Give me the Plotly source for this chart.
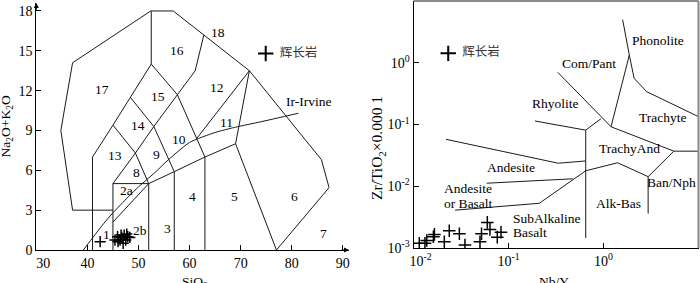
import numpy as np
import plotly.graph_objects as go

# ---------------- Left panel: TAS diagram ----------------
tas_outer_x = [45, 37.1, 34.8, 37.1, 52.4, 56.8, 71.7, 85.8, 87.3, 77.0]
tas_outer_y = [3, 3, 9.0, 14.1, 18.0, 18.0, 13.5, 6.8, 4.7, 0]
tas_l2_x = [41, 41, 45, 48.4, 52.5, 57.6, 63]
tas_l2_y = [0, 7, 9.4, 11.5, 14.0, 11.7, 7]
tas_l3_x = [52.5, 52.5]
tas_l3_y = [14.0, 18.0]
tas_l4_x = [45, 45, 52, 52]
tas_l4_y = [0, 5, 5, 0]
tas_l5_x = [45, 49.4, 53, 57.6, 61.1, 62.8]
tas_l5_y = [5, 7.3, 9.3, 11.7, 13.5, 16.2]
tas_l6_x = [45, 49.4, 52]
tas_l6_y = [9.4, 7.3, 5]
tas_l7_x = [48.4, 53, 57]
tas_l7_y = [11.5, 9.3, 5.9]
tas_l8_x = [57, 57, 63, 69, 71.7]
tas_l8_y = [0, 5.9, 7, 8, 13.5]
tas_l8b_x = [52, 57]
tas_l8b_y = [5, 5.9]
tas_l9_x = [63, 63]
tas_l9_y = [0, 7]
tas_l10_x = [69, 77]
tas_l10_y = [8, 0]
tas_l11_x = [71.7, 61.4]
tas_l11_y = [13.5, 8.4]
tas_l12_x = [45, 52]
tas_l12_y = [2.1, 5]
irvine_x = [39.2, 40, 43.2, 45, 48, 50, 53.7, 55, 60, 65, 69, 74, 81.3]
irvine_y = [0, 0.4, 2.0, 2.8, 4.0, 4.75, 6.0, 6.5, 8.1, 8.85, 9.25, 9.66, 10.3]

tas_labels = ["18", "16", "17", "15", "12", "14", "13", "9", "10", "11", "8",
              "2a", "2b", "1", "3", "4", "5", "6", "7", "Ir-Irvine"]
tas_label_x = [65.6, 57.5, 42.8, 53.9, 65.4, 50.0, 45.4, 53.6, 57.9, 67.3, 49.6,
               47.7, 50.2, 43.8, 55.7, 60.6, 68.7, 80.5, 86.3, 83.2]
tas_label_y = [16.4, 15.0, 12.05, 11.55, 12.2, 9.4, 7.15, 7.2, 8.33, 9.6, 5.85,
               4.5, 1.5, 1.2, 1.6, 4.0, 4.0, 4.0, 1.25, 11.2]

gabbro_sio2 = [42.5, 45.4, 45.9, 46.4, 46.7, 47.2, 47.5, 47.9, 48.3, 46.0, 47.0, 46.6, 47.7]
gabbro_alk = [0.63, 0.75, 1.0, 0.75, 0.95, 1.13, 0.75, 1.0, 0.95, 0.63, 0.5, 1.13, 1.2]
tas_legend_x = [74.9]
tas_legend_y = [14.8]

# ---------------- Right panel: Winchester & Floyd ----------------
wf_r1_x = [0.33, 1.2, 5.5, 10]
wf_r1_y = [0.70, 0.092, 0.037, 0.037]
wf_r2_x = [1.59, 1.87, 1.2]
wf_r2_y = [5.0, 1.33, 0.092]
wf_r2b_x = [1.87, 2.1, 2.85, 10]
wf_r2b_y = [1.33, 0.56, 0.34, 0.134]
wf_r3_x = [0.19, 0.65, 0.94]
wf_r3_y = [0.114, 0.081, 0.124]
wf_r4_x = [0.65, 0.65]
wf_r4_y = [0.081, 0.00145]
wf_r5_x = [0.022, 0.334, 0.65]
wf_r5_y = [0.0575, 0.0236, 0.0257]
wf_r6_x = [0.059, 0.474]
wf_r6_y = [0.0112, 0.0132]
wf_r7_x = [0.0274, 0.211, 0.65, 1.41, 2.95, 5.5]
wf_r7_y = [0.0041, 0.0053, 0.0178, 0.024, 0.0143, 0.037]
wf_r8_x = [2.95, 2.95]
wf_r8_y = [0.0143, 0.0036]

wf_labels = ["Phonolite", "Com/Pant", "Rhyolite", "Trachyte", "TrachyAnd", "Andesite",
             "Andesite", "or Basalt", "SubAlkaline", "Basalt", "Ban/Nph", "Alk-Bas"]
wf_label_x = [3.78, 0.709, 0.314, 4.2, 1.90, 0.1055, 0.0379, 0.0379, 0.255, 0.168, 5.22, 1.43]
wf_label_y = [2.33, 0.98, 0.215, 0.131, 0.0412, 0.020, 0.00927, 0.0053, 0.00303, 0.00177, 0.0114, 0.00516]

gabbro_nby = [0.0115, 0.0132, 0.0138, 0.0162, 0.0166, 0.0211, 0.0238, 0.0304, 0.0348,
              0.0501, 0.052, 0.0598, 0.0638, 0.0762, 0.0834]
gabbro_zrti = [0.00119, 0.00119, 0.00132, 0.00152, 0.00166, 0.00126, 0.0019, 0.0017, 0.00112,
               0.00126, 0.0017, 0.0026, 0.0020, 0.0015, 0.0018]
wf_legend_x = [0.0232]
wf_legend_y = [1.42]

LINE = dict(color="#1a1a1a", width=1)
SERIF = "Liberation Serif, Times New Roman, DejaVu Serif, serif"
CJK = "Noto Sans CJK SC"

fig = go.Figure()

tas_lines = [(tas_outer_x, tas_outer_y), (tas_l2_x, tas_l2_y), (tas_l3_x, tas_l3_y),
             (tas_l4_x, tas_l4_y), (tas_l5_x, tas_l5_y), (tas_l6_x, tas_l6_y),
             (tas_l7_x, tas_l7_y), (tas_l8_x, tas_l8_y), (tas_l8b_x, tas_l8b_y),
             (tas_l9_x, tas_l9_y), (tas_l10_x, tas_l10_y), (tas_l11_x, tas_l11_y),
             (tas_l12_x, tas_l12_y)]
for lx, ly in tas_lines:
    fig.add_trace(go.Scatter(x=lx, y=ly, mode="lines", line=LINE, xaxis="x", yaxis="y",
                             hoverinfo="skip"))
fig.add_trace(go.Scatter(x=irvine_x, y=irvine_y, mode="lines",
                         line=dict(color="#1a1a1a", width=1, shape="spline", smoothing=0.6),
                         xaxis="x", yaxis="y", hoverinfo="skip"))

wf_lines = [(wf_r1_x, wf_r1_y), (wf_r2_x, wf_r2_y), (wf_r2b_x, wf_r2b_y), (wf_r3_x, wf_r3_y),
            (wf_r4_x, wf_r4_y), (wf_r5_x, wf_r5_y), (wf_r6_x, wf_r6_y), (wf_r7_x, wf_r7_y),
            (wf_r8_x, wf_r8_y)]
for lx, ly in wf_lines:
    fig.add_trace(go.Scatter(x=lx, y=ly, mode="lines", line=LINE, xaxis="x2", yaxis="y2",
                             hoverinfo="skip"))

MK = dict(symbol="cross-thin", size=8, color="black", line=dict(color="black", width=1.5))
fig.add_trace(go.Scatter(x=gabbro_sio2, y=gabbro_alk, mode="markers", marker=MK, xaxis="x", yaxis="y"))
fig.add_trace(go.Scatter(x=gabbro_nby, y=gabbro_zrti, mode="markers",
                         marker=dict(MK, size=9), xaxis="x2", yaxis="y2"))

LEGMK = dict(symbol="cross-thin", size=11, color="black", line=dict(color="black", width=2))
fig.add_trace(go.Scatter(x=tas_legend_x, y=tas_legend_y, mode="markers+text", marker=LEGMK,
                         text=["\u2002辉长岩"], textposition="middle right",
                         textfont=dict(family=CJK, size=12.5, color="#333"), xaxis="x", yaxis="y"))
fig.add_trace(go.Scatter(x=wf_legend_x, y=wf_legend_y, mode="markers+text", marker=LEGMK,
                         text=["\u2002辉长岩"], textposition="middle right",
                         textfont=dict(family=CJK, size=12.5, color="#333"), xaxis="x2", yaxis="y2"))

annotations = []
for t, x, y in zip(tas_labels, tas_label_x, tas_label_y):
    annotations.append(dict(text=t, x=x, y=y, xref="x", yref="y", showarrow=False,
                            xanchor="center", yanchor="middle", font=dict(family=SERIF, size=13.5)))
for t, x, y in zip(wf_labels, wf_label_x, wf_label_y):
    annotations.append(dict(text=t, x=np.log10(x), y=np.log10(y), xref="x2", yref="y2", showarrow=False,
                            xanchor="center", yanchor="middle", font=dict(family=SERIF, size=13.5)))

# axis arrows (left panel)
annotations.append(dict(x=91.2, y=0, xref="x", yref="y", ax=-9, ay=0, text="", showarrow=True,
                        arrowhead=2, arrowsize=1, arrowwidth=1, arrowcolor="black"))
annotations.append(dict(x=30, y=18.6, xref="x", yref="y", ax=0, ay=9, text="", showarrow=True,
                        arrowhead=2, arrowsize=1, arrowwidth=1, arrowcolor="black"))

# axis titles
annotations.append(dict(text="SiO<sub>2</sub>", x=195 / 700, y=1 - 272 / 283, xref="paper", yref="paper",
                        showarrow=False, xanchor="center", yanchor="top", font=dict(family=SERIF, size=13.5)))
annotations.append(dict(text="Nb/Y", x=554 / 700, y=1 - 272 / 283, xref="paper", yref="paper",
                        showarrow=False, xanchor="center", yanchor="top", font=dict(family=SERIF, size=13.5)))
annotations.append(dict(text="Na<sub>2</sub>O+K<sub>2</sub>O", x=6.7 / 700, y=1 - 126.7 / 283, xref="paper",
                        yref="paper", showarrow=False, xanchor="center", yanchor="middle", textangle=-90,
                        font=dict(family=SERIF, size=13.5)))
annotations.append(dict(text="Zr/TiO<sub>2</sub>×0.000 1", x=377.7 / 700, y=1 - 148.3 / 283, xref="paper",
                        yref="paper", showarrow=False, xanchor="center", yanchor="middle", textangle=-90,
                        font=dict(family=SERIF, size=15.5)))

AX = dict(showline=True, linecolor="black", linewidth=1, ticks="inside", ticklen=5, tickcolor="black",
          showgrid=False, zeroline=False, automargin=False,
          tickfont=dict(family=SERIF, size=14, color="black"))

tas_xticks = [30, 40, 50, 60, 70, 80, 90]
tas_yticks = [0, 3, 6, 9, 12, 15, 18]
wf_ticks_x = [0.01, 0.1, 1, 10]
wf_ticks_y = [0.001, 0.01, 0.1, 1, 10]

fig.update_layout(
    width=700, height=283, margin=dict(l=0, r=0, t=0, b=0, autoexpand=False),
    paper_bgcolor="white", plot_bgcolor="rgba(0,0,0,0)", showlegend=False,
    font=dict(family=SERIF, size=13, color="black"),
    xaxis=dict(AX, domain=[36.3 / 700, 349 / 700], range=[30, 91.2], tickvals=tas_xticks,
               ticktext=["\u2007\u200730"] + [str(v) for v in tas_xticks[1:]], anchor="y"),
    yaxis=dict(AX, domain=[1 - 250 / 283, 1 - 3 / 283], range=[0, 18.6], tickvals=tas_yticks, anchor="x"),
    xaxis2=dict(AX, type="log", domain=[413.5 / 700, 698.5 / 700], range=[-2, 1], tickvals=wf_ticks_x,
                ticktext=["\u2007\u200710<sup>-2</sup>", "10<sup>-1</sup>", "10<sup>0</sup>",
                          "10<sup>1</sup>\u2007"],
                anchor="y2"),
    yaxis2=dict(AX, type="log", domain=[1 - 248 / 283, 1 - 1 / 283], range=[-3, 1], tickvals=wf_ticks_y,
                ticktext=["10<sup>-3</sup>", "10<sup>-2</sup>", "10<sup>-1</sup>", "10<sup>0</sup>",
                          "10<sup>1</sup>"],
                anchor="x2"),
    annotations=annotations,
    shapes=[
        dict(type="line", xref="x2 domain", yref="y2 domain", x0=1, x1=1, y0=0, y1=1,
             line=dict(color="#888", width=2)),
        dict(type="line", xref="x2 domain", yref="y2 domain", x0=0, x1=1, y0=1, y1=1,
             line=dict(color="#666", width=1.5)),
    ],
)

fig.write_html("out.html", config={"displayModeBar": False},
               post_script="document.body.style.margin='0';document.body.style.overflow='hidden';")
